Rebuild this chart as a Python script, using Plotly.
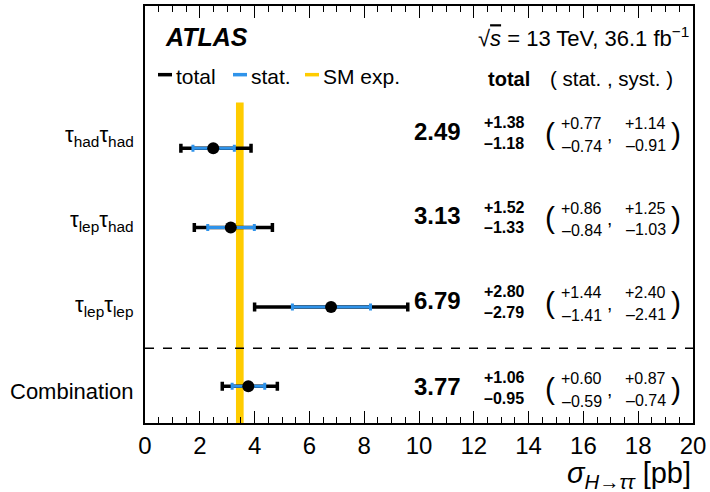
import plotly.graph_objects as go

# ---------------- data ----------------
channels = ["τ<sub>had</sub>τ<sub>had</sub>", "τ<sub>lep</sub>τ<sub>had</sub>",
            "τ<sub>lep</sub>τ<sub>lep</sub>", "Combination"]
row_pos = [4, 3, 2, 1]
central = [2.49, 3.13, 6.79, 3.77]
tot_up = [1.38, 1.52, 2.80, 1.06]
tot_dn = [1.18, 1.33, 2.79, 0.95]
stat_up = [0.77, 0.86, 1.44, 0.60]
stat_dn = [0.74, 0.84, 1.41, 0.59]
syst_up = [1.14, 1.25, 2.40, 0.87]
syst_dn = [0.91, 1.03, 2.41, 0.74]
sm_exp = 3.46
sm_unc = 0.14
x_ticks = list(range(0, 21, 2))

FONT = "Liberation Sans, Arial, Helvetica, sans-serif"
BLUE = "#2f93ea"
YELLOW = "#ffcc00"

# layout geometry (pixels)
W, H = 710, 492
L, R, T, B = 145, 17, 4, 69
PW, PH = W - L - R, H - T - B


def px(p):
    return (p - L) / PW


def py(p):
    return (H - B - p) / PH


YMIN, YMAX = 0.5356, 5.795

fig = go.Figure()

# SM band
fig.add_shape(type="rect", xref="x", yref="y", x0=sm_exp - sm_unc, x1=sm_exp + sm_unc,
              y0=YMIN, y1=4.577, fillcolor=YELLOW, line_width=0, layer="below")
# dashed separator
fig.add_shape(type="line", xref="paper", yref="y", x0=0, x1=1, y0=1.477, y1=1.477,
              line=dict(color="black", width=1.5, dash="dash"))

# total error
fig.add_trace(go.Scatter(
    x=central, y=row_pos, mode="markers", marker=dict(size=1, color="rgba(0,0,0,0)"),
    error_x=dict(type="data", symmetric=False, array=tot_up, arrayminus=tot_dn,
                 color="black", thickness=3.5, width=4.5),
    showlegend=False, hoverinfo="skip"))
# stat error
fig.add_trace(go.Scatter(
    x=central, y=row_pos, mode="markers", marker=dict(size=1, color="rgba(0,0,0,0)"),
    error_x=dict(type="data", symmetric=False, array=stat_up, arrayminus=stat_dn,
                 color=BLUE, thickness=3, width=3.5),
    showlegend=False, hoverinfo="skip"))
# central values
fig.add_trace(go.Scatter(
    x=central, y=row_pos, mode="markers", marker=dict(size=12, color="black"),
    showlegend=False))

ann = []


def text(x, y, s, size, xanchor="left", yanchor="middle", **kw):
    ann.append(dict(x=px(x), y=py(y), xref="paper", yref="paper", text=s, showarrow=False,
                    xanchor=xanchor, yanchor=yanchor,
                    font=dict(family=FONT, size=size, color="black"), **kw))


# header
text(163, 35, "<b><i>ATLAS</i></b>", 25)
text(691, 35, "√<span style='text-decoration:overline'><i>s</i></span> = 13 TeV, 36.1 fb<sup>−1</sup>",
     22, xanchor="right")
# legend
for x0, col, lab in [(158, "black", "total"), (233, BLUE, "stat."), (305, YELLOW, "SM exp.")]:
    fig.add_shape(type="line", xref="paper", yref="paper", x0=px(x0), x1=px(x0 + 14),
                  y0=py(73), y1=py(73), line=dict(color=col, width=3.5))
    text(x0 + 16, 75, lab, 21)
text(509, 77, "<b>total</b>", 20, xanchor="center")
text(548, 77, "( stat. , syst. )", 20.5)

# per-row text
text_y = [130, 215, 300, 386.5]
for i, yc in enumerate(text_y):
    text(136, yc + 5, channels[i], 22, xanchor="right")
    text(463, yc, "<b>%.2f</b>" % central[i], 24, xanchor="right")
    text(482, yc - 9, "<b>+%.2f</b>" % tot_up[i], 16)
    text(482, yc + 12, "<b>–%.2f</b>" % tot_dn[i], 16)
    text(550, yc + 2, "(", 30, xanchor="center")
    text(604, yc - 8, "+%.2f" % stat_up[i], 16, xanchor="right")
    text(604, yc + 15, "–%.2f" % stat_dn[i], 16, xanchor="right")
    text(609, yc + 3, ",", 19, xanchor="center")
    text(668, yc - 8, "+%.2f" % syst_up[i], 16, xanchor="right")
    text(668, yc + 14, "–%.2f" % syst_dn[i], 16, xanchor="right")
    text(676, yc + 2, ")", 30, xanchor="center")

# axis title
text(693, 475, "<i>σ</i><sub><i>H→ττ</i></sub> [pb]", 29, xanchor="right")

fig.update_layout(
    width=W, height=H, margin=dict(l=L, r=R, t=T, b=B),
    paper_bgcolor="white", plot_bgcolor="white",
    annotations=ann, showlegend=False,
    font=dict(family=FONT, color="black"),
    xaxis=dict(range=[0, 20], tickvals=x_ticks, ticks="inside", ticklen=12, tickwidth=1.2,
               tickcolor="black", showline=True, linecolor="black", linewidth=1.5,
               mirror="ticks", showgrid=False, zeroline=False,
               tickfont=dict(family=FONT, size=24, color="black"),
               minor=dict(dtick=0.5, ticks="inside", ticklen=6, tickwidth=1.2,
                          tickcolor="black", showgrid=False)),
    yaxis=dict(range=[YMIN, YMAX], showticklabels=False, ticks="", showline=True,
               linecolor="black", linewidth=1.5, mirror=True, showgrid=False,
               zeroline=False),
)

fig.write_html("out.html", config={"displayModeBar": False},
               post_script="document.body.style.margin='0';")
